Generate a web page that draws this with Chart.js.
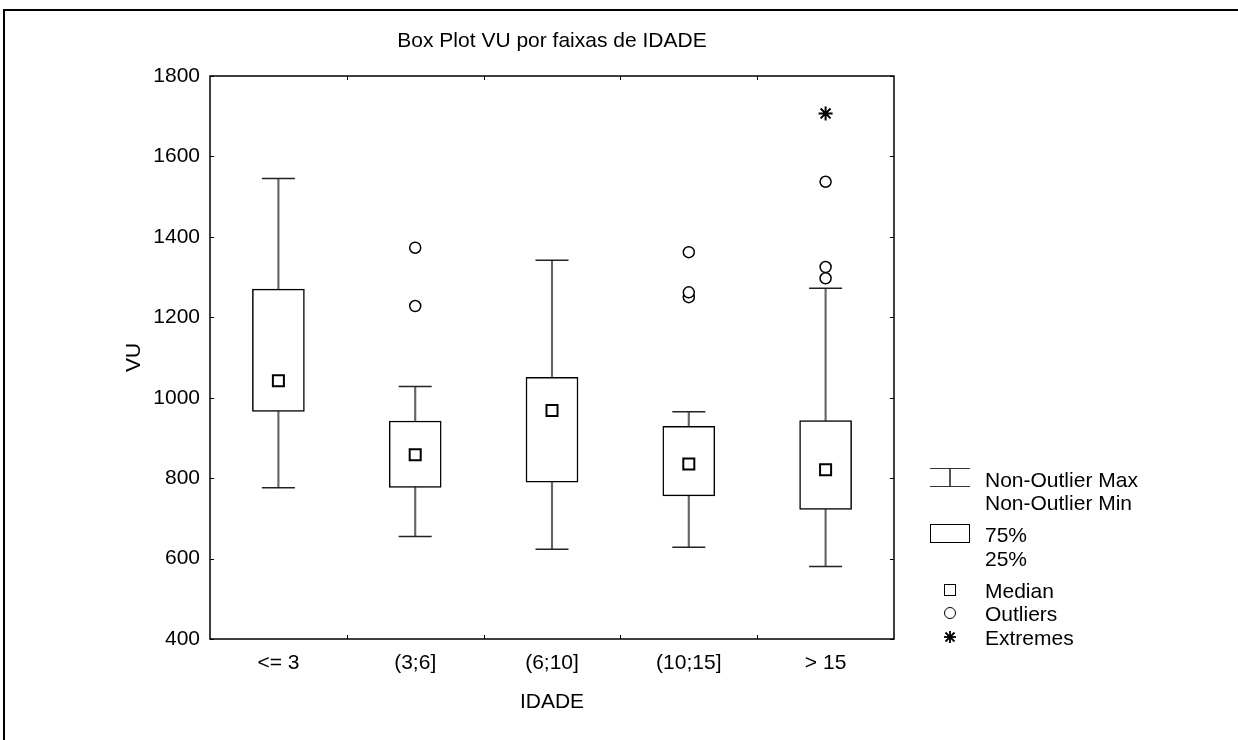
<!DOCTYPE html>
<html><head><meta charset="utf-8">
<script src="https://cdn.jsdelivr.net/npm/chart.js@4.4.1/dist/chart.umd.min.js"></script>
<style>
html,body{margin:0;padding:0;background:#fff;}
#wrap{position:relative;width:1238px;height:740px;overflow:hidden;font-family:"Liberation Sans",Arial,sans-serif;color:#000;}
#frame{position:absolute;left:3px;top:9px;width:1300px;height:800px;border-top:2px solid #000;border-left:2px solid #000;}
canvas{position:absolute;left:0;top:0;}
#title{position:absolute;top:28px;left:352px;width:400px;text-align:center;font-size:21px;line-height:24px;}
.lt{position:absolute;left:985px;font-size:21px;line-height:23px;white-space:nowrap;}
.sym{position:absolute;box-sizing:border-box;}
</style></head>
<body><div id="wrap">
<div id="frame"></div>
<canvas id="c" width="1238" height="740"></canvas>
<div id="title">Box Plot VU por faixas de IDADE</div>
<div class="sym" style="left:930px;top:468px;width:40px;height:19px;border-top:1.5px solid #333;border-bottom:1.5px solid #333;"></div>
<div class="sym" style="left:949px;top:469px;width:1.5px;height:17px;background:#555;"></div>
<div class="lt" style="top:468px;">Non-Outlier Max</div>
<div class="lt" style="top:491px;">Non-Outlier Min</div>
<div class="sym" style="left:930px;top:524px;width:40px;height:19px;border:1.5px solid #000;"></div>
<div class="lt" style="top:523px;">75%</div>
<div class="lt" style="top:547px;">25%</div>
<div class="sym" style="left:944px;top:584px;width:12px;height:12px;border:1.5px solid #000;"></div>
<div class="lt" style="top:579px;">Median</div>
<div class="sym" style="left:944px;top:607px;width:12px;height:12px;border:1.5px solid #000;border-radius:50%;"></div>
<div class="lt" style="top:602px;">Outliers</div>
<svg class="sym" style="left:943px;top:630px;" width="14" height="14" viewBox="0 0 14 14"><g stroke="#000" stroke-width="1.8"><line x1="7" y1="1" x2="7" y2="13"/><line x1="1" y1="7" x2="13" y2="7"/><line x1="2.5" y1="2.5" x2="11.5" y2="11.5"/><line x1="11.5" y1="2.5" x2="2.5" y2="11.5"/></g></svg>
<div class="lt" style="top:626px;">Extremes</div>
</div>
<script>
const categories = ['<= 3', '(3;6]', '(6;10]', '(10;15]', '> 15'];
const nonOutlierMin = [776, 655, 623, 628, 580];
const q25 = [966, 777, 790, 756, 722];
const medians = [1042, 858, 968, 835, 821];
const q75 = [1270, 942, 1051, 929, 943];
const nonOutlierMax = [1545, 1028, 1342, 965, 1272];
const outliers = [[], [1228, 1373], [], [1250, 1262, 1362], [1297, 1325, 1537]];
const extremes = [[], [], [], [], [1707]];
const yMin = 400, yMax = 1800, yStep = 200;

const outlierPts = [];
outliers.forEach((arr, i) => arr.forEach(v => outlierPts.push({x: categories[i], y: v})));
const extremePts = [];
extremes.forEach((arr, i) => arr.forEach(v => extremePts.push({x: categories[i], y: v})));

const frameTicks = {
  id: 'frameTicks',
  afterDraw(chart) {
    const {ctx, chartArea: a, scales} = chart;
    ctx.save();
    ctx.strokeStyle = '#000';
    ctx.lineWidth = 1.5;
    ctx.strokeRect(a.left, a.top, a.right - a.left, a.bottom - a.top);
    ctx.lineWidth = 1;
    const L = 4;
    scales.y.ticks.forEach(t => {
      const y = Math.round(scales.y.getPixelForValue(t.value)) + 0.5;
      ctx.beginPath();
      ctx.moveTo(a.left, y); ctx.lineTo(a.left + L, y);
      ctx.moveTo(a.right, y); ctx.lineTo(a.right - L, y);
      ctx.stroke();
    });
    for (let i = 1; i < categories.length; i++) {
      const x = Math.round((scales.x.getPixelForValue(i - 1) + scales.x.getPixelForValue(i)) / 2) + 0.5;
      ctx.beginPath();
      ctx.moveTo(x, a.top); ctx.lineTo(x, a.top + L);
      ctx.moveTo(x, a.bottom); ctx.lineTo(x, a.bottom - L);
      ctx.stroke();
    }
    ctx.restore();
  }
};

const font21 = {family: '"Liberation Sans", Arial, sans-serif', size: 21};

new Chart(document.getElementById('c'), {
  type: 'bar',
  data: {
    labels: categories,
    datasets: [
      {type: 'bar', label: 'upper', data: categories.map((c, i) => [q75[i], nonOutlierMax[i]]),
       backgroundColor: '#666', borderWidth: 0, barThickness: 1.5, grouped: false, order: 5},
      {type: 'bar', label: 'lower', data: categories.map((c, i) => [nonOutlierMin[i], q25[i]]),
       backgroundColor: '#666', borderWidth: 0, barThickness: 1.5, grouped: false, order: 5},
      {type: 'bar', label: 'box', data: categories.map((c, i) => [q25[i], q75[i]]),
       backgroundColor: '#fff', borderColor: '#000', borderWidth: 1.5, borderSkipped: false,
       barThickness: 52, grouped: false, order: 4},
      {type: 'line', label: 'max', data: nonOutlierMax, showLine: false, pointStyle: 'line',
       pointRadius: 16.5, borderColor: '#222', borderWidth: 1.5, order: 3},
      {type: 'line', label: 'min', data: nonOutlierMin, showLine: false, pointStyle: 'line',
       pointRadius: 16.5, borderColor: '#222', borderWidth: 1.5, order: 3},
      {type: 'line', label: 'median', data: medians, showLine: false, pointStyle: 'rect',
       pointRadius: 7.8, borderColor: '#000', backgroundColor: '#fff', borderWidth: 2, order: 1},
      {type: 'line', label: 'outliers', data: outlierPts, showLine: false, pointStyle: 'circle',
       pointRadius: 5.5, borderColor: '#000', backgroundColor: '#fff', borderWidth: 1.5, order: 1},
      {type: 'line', label: 'extremes', data: extremePts, showLine: false, pointStyle: 'star',
       pointRadius: 7, borderColor: '#000', borderWidth: 2, order: 1}
    ]
  },
  options: {
    responsive: false,
    animation: false,
    devicePixelRatio: 1,
    layout: {padding: {left: 122, top: 76, right: 344, bottom: 25}},
    plugins: {legend: {display: false}, tooltip: {enabled: false}, title: {display: false}},
    scales: {
      x: {
        type: 'category', offset: true,
        grid: {display: false, drawTicks: false},
        border: {display: false},
        ticks: {font: font21, color: '#000', padding: 12, maxRotation: 0},
        title: {display: true, text: 'IDADE', font: font21, color: '#000', padding: 0},
        afterFit: s => { s.height = 76; }
      },
      y: {
        min: yMin, max: yMax,
        grid: {display: false, drawTicks: false},
        border: {display: false},
        ticks: {stepSize: yStep, font: font21, color: '#000', padding: 10, callback: v => String(v)},
        title: {display: true, text: 'VU', font: font21, color: '#000', padding: 0},
        afterFit: s => { s.width = 88; }
      }
    }
  },
  plugins: [frameTicks]
});
</script>
</body></html>
